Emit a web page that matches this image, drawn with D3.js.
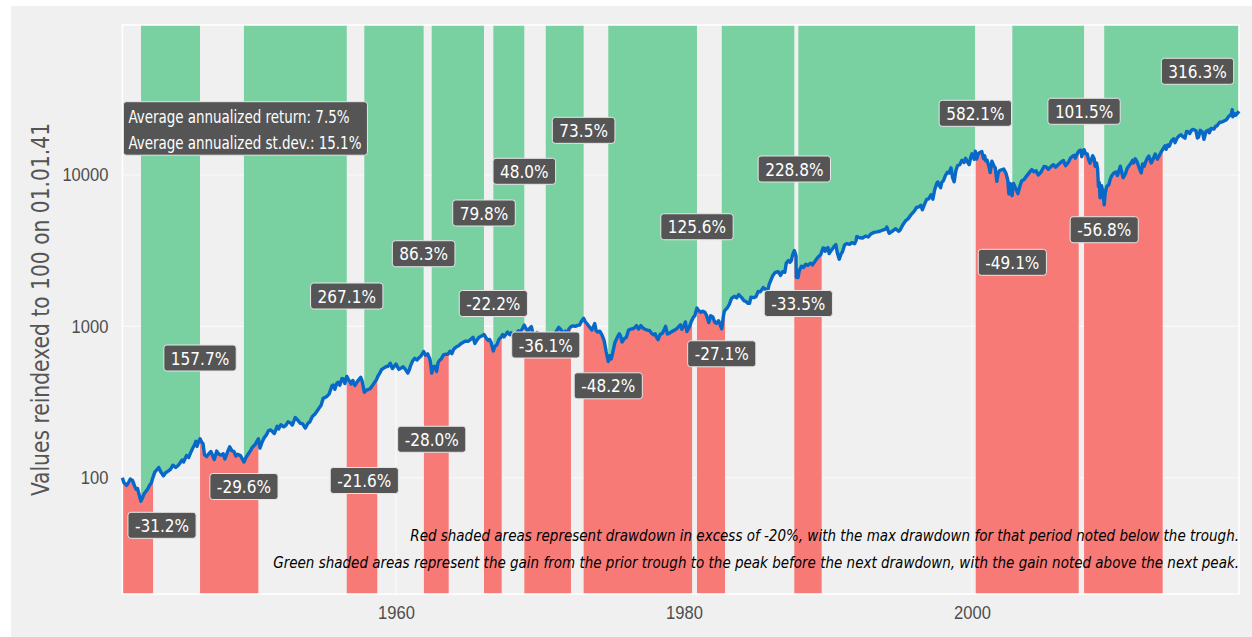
<!DOCTYPE html>
<html>
<head>
<meta charset="utf-8">
<script src="https://cdn.jsdelivr.net/npm/d3@7"></script>
<style>
  body { margin: 0; background: #ffffff; }
  svg { display: block; font-family: "DejaVu Sans Condensed", "Liberation Sans Narrow", sans-serif; }
</style>
</head>
<body>
<div id="chart"></div>
<script>
// index level, reindexed to 100 on 01.01.41 (year as decimal, value)
var indexSeries = [
[1941.00,100],[1941.10,93],[1941.20,91],[1941.30,89],[1941.45,94],[1941.55,98],[1941.70,96],[1941.85,88],[1941.95,84],[1942.05,85],[1942.15,78],[1942.29,70],[1942.40,74],[1942.50,78],[1942.62,81],[1942.75,84],[1942.88,89],[1943.00,92],[1943.13,101],[1943.25,109],[1943.40,113],[1943.52,117],[1943.65,110],[1943.85,103],[1944.00,108],[1944.20,111],[1944.35,114],[1944.50,121],[1944.70,117],[1944.85,120],[1945.00,125],[1945.15,131],[1945.25,127],[1945.45,140],[1945.60,136],[1945.75,147],[1945.90,158],[1946.00,164],[1946.10,174],[1946.18,161],[1946.30,174],[1946.39,181],[1946.50,172],[1946.60,168],[1946.70,142],[1946.85,138],[1947.00,144],[1947.15,149],[1947.38,132],[1947.55,150],[1947.70,143],[1947.85,141],[1948.00,144],[1948.12,133],[1948.30,148],[1948.45,160],[1948.60,151],[1948.75,149],[1948.88,139],[1949.00,143],[1949.20,140],[1949.44,127],[1949.60,137],[1949.75,144],[1949.90,151],[1950.00,158],[1950.20,165],[1950.44,181],[1950.55,157],[1950.70,172],[1950.85,184],[1951.00,192],[1951.15,205],[1951.30,207],[1951.45,200],[1951.55,196],[1951.75,219],[1951.85,210],[1952.00,224],[1952.20,217],[1952.35,222],[1952.50,234],[1952.65,231],[1952.80,223],[1953.00,250],[1953.15,242],[1953.35,229],[1953.50,228],[1953.70,213],[1953.90,230],[1954.00,233],[1954.20,255],[1954.35,262],[1954.50,274],[1954.65,288],[1954.80,301],[1954.95,336],[1955.05,338],[1955.20,345],[1955.35,357],[1955.55,404],[1955.65,410],[1955.75,384],[1955.90,423],[1956.00,428],[1956.10,408],[1956.25,452],[1956.35,450],[1956.45,419],[1956.58,467],[1956.70,445],[1956.80,431],[1956.88,417],[1957.00,439],[1957.15,407],[1957.30,430],[1957.55,461],[1957.65,435],[1957.80,367],[1957.92,378],[1958.05,382],[1958.20,387],[1958.35,405],[1958.50,425],[1958.65,446],[1958.75,470],[1958.90,496],[1959.00,519],[1959.15,530],[1959.30,541],[1959.45,545],[1959.60,571],[1959.75,526],[1959.90,548],[1960.00,563],[1960.20,520],[1960.35,530],[1960.50,541],[1960.65,520],[1960.82,492],[1960.92,515],[1961.00,546],[1961.15,590],[1961.30,616],[1961.45,600],[1961.60,620],[1961.75,640],[1961.92,682],[1962.05,645],[1962.20,658],[1962.35,610],[1962.42,555],[1962.48,492],[1962.58,540],[1962.70,545],[1962.82,503],[1962.92,575],[1963.00,593],[1963.15,612],[1963.30,649],[1963.45,655],[1963.60,653],[1963.75,685],[1963.88,660],[1964.00,705],[1964.20,734],[1964.35,745],[1964.50,768],[1964.65,782],[1964.80,799],[1965.00,797],[1965.15,815],[1965.35,846],[1965.48,771],[1965.60,805],[1965.75,845],[1965.90,860],[1966.00,869],[1966.11,884],[1966.25,840],[1966.40,808],[1966.50,820],[1966.60,786],[1966.70,722],[1966.76,688],[1966.85,735],[1967.00,755],[1967.15,820],[1967.30,850],[1967.40,884],[1967.50,852],[1967.65,890],[1967.75,917],[1967.90,880],[1968.00,907],[1968.20,824],[1968.35,900],[1968.50,936],[1968.65,920],[1968.80,975],[1968.91,1019],[1969.00,977],[1969.15,935],[1969.30,975],[1969.40,996],[1969.55,863],[1969.70,880],[1969.80,912],[1969.92,868],[1970.00,866],[1970.10,850],[1970.20,841],[1970.30,760],[1970.40,651],[1970.50,700],[1970.60,733],[1970.70,780],[1970.80,792],[1970.92,835],[1971.00,867],[1971.15,935],[1971.30,985],[1971.45,950],[1971.60,902],[1971.75,930],[1971.87,872],[1972.00,960],[1972.15,995],[1972.30,1007],[1972.45,1000],[1972.60,1015],[1972.75,1020],[1972.90,1090],[1973.03,1130],[1973.15,1070],[1973.30,1030],[1973.45,987],[1973.60,945],[1973.80,1043],[1973.90,935],[1974.00,917],[1974.15,930],[1974.30,880],[1974.45,808],[1974.60,677],[1974.74,586],[1974.85,640],[1974.95,610],[1975.05,670],[1975.20,780],[1975.35,840],[1975.50,895],[1975.60,860],[1975.70,789],[1975.85,830],[1976.00,848],[1976.15,945],[1976.30,959],[1976.45,965],[1976.60,985],[1976.70,1013],[1976.85,960],[1977.00,1011],[1977.15,975],[1977.30,955],[1977.45,945],[1977.60,940],[1977.75,900],[1977.90,880],[1978.00,894],[1978.10,845],[1978.20,817],[1978.35,890],[1978.50,900],[1978.65,965],[1978.72,1000],[1978.85,890],[1979.00,903],[1979.20,930],[1979.35,945],[1979.50,967],[1979.65,1000],[1979.75,1025],[1979.85,957],[1980.00,1014],[1980.10,1070],[1980.20,923],[1980.35,980],[1980.50,1072],[1980.65,1150],[1980.75,1175],[1980.90,1321],[1981.00,1277],[1981.15,1240],[1981.30,1260],[1981.45,1240],[1981.55,1190],[1981.72,1060],[1981.85,1175],[1982.00,1152],[1982.15,1060],[1982.25,1048],[1982.40,1090],[1982.50,1030],[1982.62,963],[1982.72,1140],[1982.80,1260],[1982.90,1295],[1983.00,1322],[1983.15,1400],[1983.30,1530],[1983.50,1579],[1983.65,1540],[1983.80,1622],[1984.00,1550],[1984.15,1480],[1984.30,1460],[1984.45,1420],[1984.55,1419],[1984.65,1560],[1984.85,1550],[1985.00,1572],[1985.15,1700],[1985.30,1690],[1985.50,1804],[1985.65,1760],[1985.80,1711],[1985.92,1900],[1986.00,1986],[1986.15,2150],[1986.30,2256],[1986.45,2290],[1986.55,2300],[1986.70,2171],[1986.85,2300],[1987.00,2277],[1987.10,2610],[1987.25,2726],[1987.35,2650],[1987.45,2717],[1987.55,2990],[1987.66,3166],[1987.72,3050],[1987.78,2914],[1987.80,2113],[1987.86,2350],[1987.92,2105],[1988.00,2323],[1988.15,2500],[1988.30,2450],[1988.45,2571],[1988.60,2530],[1988.80,2613],[1988.92,2550],[1989.00,2610],[1989.15,2740],[1989.30,2860],[1989.50,2980],[1989.65,3299],[1989.78,3280],[1989.80,3130],[1989.92,3250],[1990.00,3322],[1990.08,3027],[1990.25,3200],[1990.40,3350],[1990.54,3469],[1990.65,3050],[1990.78,2778],[1990.90,3000],[1991.00,3104],[1991.15,3450],[1991.30,3525],[1991.50,3487],[1991.65,3570],[1991.85,3520],[1991.95,3700],[1992.00,3921],[1992.20,3850],[1992.40,3835],[1992.60,3950],[1992.80,3900],[1993.00,4096],[1993.20,4180],[1993.40,4211],[1993.60,4250],[1993.80,4330],[1994.00,4385],[1994.08,4531],[1994.25,4117],[1994.45,4250],[1994.70,4418],[1994.90,4250],[1995.00,4317],[1995.20,4700],[1995.40,5000],[1995.55,5123],[1995.75,5450],[1995.90,5650],[1996.00,5789],[1996.15,6100],[1996.30,6150],[1996.45,6298],[1996.55,5894],[1996.70,6400],[1996.85,6900],[1997.00,6963],[1997.15,7400],[1997.28,6928],[1997.40,7950],[1997.55,8800],[1997.62,8996],[1997.70,8600],[1997.82,8244],[1997.90,8950],[1998.00,9122],[1998.15,9900],[1998.30,10434],[1998.40,10300],[1998.54,11148],[1998.65,9600],[1998.76,9015],[1998.88,10700],[1999.00,11553],[1999.15,11700],[1999.30,12500],[1999.45,12100],[1999.55,12897],[1999.65,12400],[1999.80,11722],[1999.92,13200],[2000.00,13809],[2000.15,12700],[2000.23,14354],[2000.32,12746],[2000.45,13903],[2000.55,14100],[2000.68,14288],[2000.80,12822],[2000.88,13400],[2000.95,12408],[2001.05,12500],[2001.18,11300],[2001.26,10368],[2001.38,12333],[2001.50,11600],[2001.62,11092],[2001.72,9079],[2001.82,10300],[2001.92,10707],[2002.00,10791],[2002.20,10951],[2002.35,10300],[2002.48,9306],[2002.56,7498],[2002.65,8808],[2002.72,7700],[2002.78,7302],[2002.88,8798],[2003.00,8270],[2003.10,7900],[2003.19,7527],[2003.30,8300],[2003.45,9165],[2003.60,9300],[2003.80,9870],[2004.00,10452],[2004.15,10857],[2004.30,10500],[2004.45,10650],[2004.60,9992],[2004.80,10500],[2005.00,11392],[2005.15,11300],[2005.30,10923],[2005.50,11400],[2005.65,11703],[2005.80,11250],[2006.00,11734],[2006.15,12100],[2006.35,12464],[2006.50,11506],[2006.70,12200],[2006.85,13000],[2007.00,13332],[2007.12,13500],[2007.17,12916],[2007.35,14100],[2007.45,14500],[2007.55,14598],[2007.62,13216],[2007.70,14100],[2007.78,14711],[2007.88,13800],[2008.00,13799],[2008.10,12600],[2008.20,11966],[2008.38,13404],[2008.48,12800],[2008.55,11412],[2008.65,12000],[2008.72,10960],[2008.78,8422],[2008.84,8900],[2008.89,7073],[2008.95,8347],[2009.00,8488],[2009.08,7800],[2009.18,6359],[2009.25,7600],[2009.35,8400],[2009.50,8639],[2009.60,9400],[2009.72,9964],[2009.85,10300],[2010.00,10481],[2010.10,9926],[2010.30,11440],[2010.42,10200],[2010.50,9607],[2010.65,10200],[2010.78,11092],[2010.90,11500],[2011.00,11821],[2011.15,12500],[2011.22,12000],[2011.33,12812],[2011.45,12300],[2011.60,11200],[2011.75,10331],[2011.85,11844],[2011.95,11400],[2012.00,11821],[2012.15,12800],[2012.28,13339],[2012.45,12013],[2012.60,12900],[2012.72,13771],[2012.87,12718],[2013.00,13404],[2013.12,14100],[2013.24,14749],[2013.40,15600],[2013.48,14786],[2013.60,15800],[2013.70,15510],[2013.85,16800],[2014.00,17371],[2014.10,16365],[2014.25,17600],[2014.40,18200],[2014.52,18424],[2014.62,18000],[2014.79,17503],[2014.90,19400],[2015.00,19355],[2015.12,18800],[2015.25,19800],[2015.38,20031],[2015.55,19600],[2015.65,17550],[2015.73,17800],[2015.85,19740],[2016.00,19214],[2016.11,17193],[2016.25,19400],[2016.40,19800],[2016.48,19000],[2016.60,20300],[2016.80,20107],[2016.92,21000],[2017.00,21047],[2017.20,22300],[2017.35,22400],[2017.50,22776],[2017.65,23100],[2017.80,24200],[2017.95,25000],[2018.00,25136],[2018.07,27006],[2018.11,24261],[2018.22,25500],[2018.30,24816],[2018.42,25500],[2018.54,26414]
];

// drawdown periods (peak -> recovery), red
var drawStart = [1941.00, 1946.39, 1956.58, 1961.94, 1966.11, 1968.91, 1973.03, 1980.90, 1987.66, 2000.26, 2007.78];
var drawEnd   = [1943.13, 1950.44, 1958.70, 1963.66, 1967.34, 1972.15, 1980.56, 1982.85, 1989.56, 2007.41, 2013.24];

// gain periods (trough -> next peak), green
var gainStart = [1942.29, 1949.44, 1957.80, 1962.48, 1966.76, 1970.40, 1974.74, 1982.62, 1987.94, 2002.80, 2009.18];
var gainEnd   = [1946.39, 1956.58, 1961.92, 1966.11, 1968.91, 1973.03, 1980.90, 1987.66, 2000.21, 2007.78, 2018.54];

// labels
var gainText = ["157.7%", "267.1%", "86.3%", "79.8%", "48.0%", "73.5%", "125.6%", "228.8%", "582.1%", "101.5%", "316.3%"];
var gainLabelX = [1946.39, 1956.58, 1961.92, 1966.11, 1968.91, 1973.03, 1980.90, 1987.66, 2000.23, 2007.78, 2015.66];
var gainLabelY = [618, 1587, 3020, 5610, 10580, 19730, 4553, 10956, 25560, 26360, 48440];

var drawText = ["-31.2%", "-29.6%", "-21.6%", "-28.0%", "-22.2%", "-36.1%", "-48.2%", "-27.1%", "-33.5%", "-49.1%", "-56.8%"];
var drawLabelX = [1943.75, 1949.44, 1957.80, 1962.48, 1966.76, 1970.40, 1974.74, 1982.62, 1987.94, 2002.80, 2009.18];
var drawLabelY = [48.5, 87.5, 95.9, 179.5, 1416, 753, 405, 659, 1416, 2650, 4350];

var yTicks = [100, 1000, 10000];
var xTicks = [1960, 1980, 2000];
var statsText = ["Average annualized return: 7.5%", "Average annualized st.dev.: 15.1%"];
var noteText = [
  "Red shaded areas represent drawdown in excess of -20%, with the max drawdown for that period noted below the trough.",
  "Green shaded areas represent the gain from the prior trough to the peak before the next drawdown, with the gain noted above the next peak."
];

window.onload = function() {
    var W = 1252, H = 637;
    var panel = { left: 122.4, right: 1239, top: 25, bottom: 594 };
    // squeeze factor so the condensed font looks like the narrow original
    var squeeze = 0.92;

    var svg = d3.select("#chart").append("svg")
        .attr("width", W).attr("height", H);

    // plot background
    svg.append("rect").attr("x", 11).attr("y", 6)
        .attr("width", W - 11).attr("height", H - 6)
        .attr("fill", "#f0f0f0");

    var x = d3.scaleLinear().domain([1941, 2018.54]).range([panel.left, panel.right]);
    var y = d3.scaleLog().domain([17.06, 97960]).range([panel.bottom, panel.top]);

    // gridlines
    var grid = svg.append("g");
    grid.selectAll(".gy").data(yTicks).enter().append("line")
        .attr("x1", panel.left).attr("x2", panel.right)
        .attr("y1", function(d) { return y(d); }).attr("y2", function(d) { return y(d); })
        .attr("stroke", "#fafafa").attr("stroke-width", 1.2);
    grid.selectAll(".gx").data(xTicks).enter().append("line")
        .attr("y1", panel.top).attr("y2", panel.bottom)
        .attr("x1", function(d) { return x(d); }).attr("x2", function(d) { return x(d); })
        .attr("stroke", "#fafafa").attr("stroke-width", 1.2);

    var below = d3.area()
        .x(function(d) { return x(d[0]); })
        .y0(panel.bottom)
        .y1(function(d) { return y(d[1]); });
    var above = d3.area()
        .x(function(d) { return x(d[0]); })
        .y0(panel.top)
        .y1(function(d) { return y(d[1]); });

    var defs = svg.append("defs");
    function shade(starts, ends, gen, color, prefix) {
        starts.forEach(function(s, i) {
            var id = prefix + i;
            defs.append("clipPath").attr("id", id).append("rect")
                .attr("x", x(s)).attr("y", panel.top)
                .attr("width", x(ends[i]) - x(s))
                .attr("height", panel.bottom - panel.top);
            svg.append("path").datum(indexSeries)
                .attr("d", gen)
                .attr("fill", color)
                .attr("clip-path", "url(#" + id + ")");
        });
    }
    shade(gainStart, gainEnd, above, "#79d1a1", "g");
    shade(drawStart, drawEnd, below, "#f87a77", "r");

    // panel border
    svg.append("rect")
        .attr("x", panel.left).attr("y", panel.top)
        .attr("width", panel.right - panel.left).attr("height", panel.bottom - panel.top)
        .attr("fill", "none").attr("stroke", "#ffffff").attr("stroke-width", 1.5);

    // the index line
    var line = d3.line()
        .x(function(d) { return x(d[0]); })
        .y(function(d) { return y(d[1]); });
    svg.append("path").datum(indexSeries)
        .attr("d", line)
        .attr("fill", "none")
        .attr("stroke", "#0868c8")
        .attr("stroke-width", 3.4)
        .attr("stroke-linejoin", "round");

    // axes
    var yAxis = svg.append("g")
        .attr("transform", "translate(" + panel.left + ",0)")
        .call(d3.axisLeft(y).tickValues(yTicks).tickSize(0).tickPadding(0).tickFormat(d3.format("d")));
    var xAxis = svg.append("g")
        .attr("transform", "translate(0," + panel.bottom + ")")
        .call(d3.axisBottom(x).tickValues(xTicks).tickSize(0).tickPadding(12).tickFormat(d3.format("d")));
    [yAxis, xAxis].forEach(function(a) {
        a.select(".domain").remove();
        a.selectAll("text")
            .attr("fill", "#4d4d4d")
            .style("font-size", "18px");
    });
    yAxis.selectAll("text").attr("x", 0)
        .attr("transform", "translate(-14,0) scale(" + squeeze + ",1)");
    xAxis.selectAll("text").attr("transform", "scale(" + squeeze + ",1)");

    // y axis title
    svg.append("text")
        .attr("transform", "translate(49," + ((panel.top + panel.bottom) / 2) + ") rotate(-90) scale(" + squeeze + ",1)")
        .attr("text-anchor", "middle")
        .attr("fill", "#555555")
        .style("font-size", "24.5px")
        .text("Values reindexed to 100 on 01.01.41");

    // notes
    noteText.forEach(function(t, i) {
        svg.append("text")
            .attr("transform", "translate(" + panel.right + "," + (541 + i * 27) + ") scale(" + squeeze + ",1)")
            .attr("text-anchor", "end")
            .attr("fill", "#000000")
            .style("font-size", "16.3px")
            .style("font-style", "italic")
            .text(t);
    });

    // label boxes
    function addLabel(tx, cx, cy) {
        var g = svg.append("g");
        var rect = g.append("rect");
        var text = g.append("text")
            .attr("transform", "translate(" + cx + "," + cy + ") scale(" + squeeze + ",1)")
            .attr("dy", "0.36em")
            .attr("text-anchor", "middle")
            .attr("fill", "#ffffff")
            .style("font-size", "18.5px")
            .text(tx);
        var w = text.node().getComputedTextLength() * squeeze + 14;
        rect.attr("x", cx - w / 2).attr("y", cy - 13)
            .attr("width", w).attr("height", 26)
            .attr("rx", 3).attr("ry", 3)
            .attr("fill", "#555555")
            .attr("stroke", "#e6e6e6").attr("stroke-width", 1);
    }
    gainText.forEach(function(t, i) { addLabel(t, x(gainLabelX[i]), y(gainLabelY[i])); });
    drawText.forEach(function(t, i) { addLabel(t, x(drawLabelX[i]), y(drawLabelY[i])); });

    // stats box
    var statSqueeze = 0.88;
    var sg = svg.append("g");
    var srect = sg.append("rect");
    var maxW = 0;
    statsText.forEach(function(t, i) {
        var tt = sg.append("text")
            .attr("transform", "translate(" + (x(1941) + 6) + "," + (123 + i * 26) + ") scale(" + statSqueeze + ",1)")
            .attr("fill", "#ffffff")
            .style("font-size", "17px")
            .text(t);
        maxW = Math.max(maxW, tt.node().getComputedTextLength() * statSqueeze);
    });
    srect.attr("x", x(1941) + 1).attr("y", 101.7)
        .attr("width", maxW + 11).attr("height", 53.5)
        .attr("rx", 3).attr("ry", 3)
        .attr("fill", "#555555")
        .attr("stroke", "#e6e6e6").attr("stroke-width", 1);
};
</script>
</body>
</html>
